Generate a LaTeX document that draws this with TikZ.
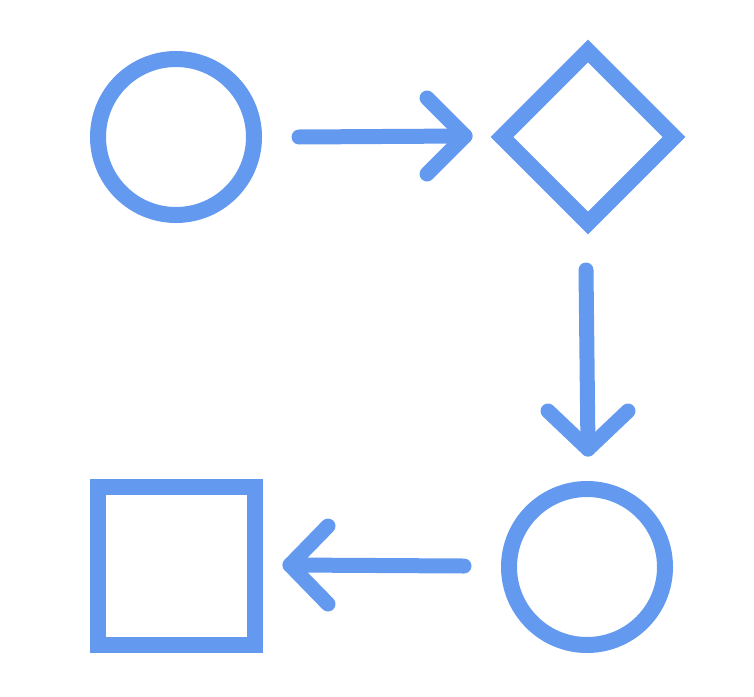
\documentclass[tikz,border=0pt]{standalone}
\usetikzlibrary{shapes.geometric}
\definecolor{cb}{RGB}{100,153,240}
\begin{document}
\begin{tikzpicture}[x=1pt,y=-1pt,
  shp/.style={draw=cb,line width=16pt,inner sep=0pt,outer sep=0pt},
  conn/.style={draw=cb,line width=15pt,line cap=round,line join=round}]
\useasboundingbox (0,0) rectangle (754,696);
\node[shp,circle,minimum size=156pt] (c1) at (176,137) {};
\node[shp,diamond,minimum width=172pt,minimum height=172pt] (d1) at (588,137) {};
\node[shp,circle,minimum size=156pt] (c2) at (587,567) {};
\node[shp,rectangle,minimum width=157pt,minimum height=158pt] (s1) at (176,565.5) {};
% arrow 1
\coordinate (a1s) at (299,137);
\coordinate (a1e) at (465,136);
\draw[conn] (a1s) -- (a1e);
\draw[conn] ([shift={(-38,-38)}]a1e) -- (a1e) -- ([shift={(-38,38)}]a1e);
% arrow 2
\coordinate (a2s) at (586,270);
\coordinate (a2e) at (588,449);
\draw[conn] (a2s) -- (a2e);
\draw[conn] ([shift={(-40,-38)}]a2e) -- (a2e) -- ([shift={(40,-38)}]a2e);
% arrow 3
\coordinate (a3s) at (464,566);
\coordinate (a3e) at (290,565);
\draw[conn] (a3s) -- (a3e);
\draw[conn] ([shift={(38,-39)}]a3e) -- (a3e) -- ([shift={(38,39)}]a3e);
\end{tikzpicture}
\end{document}
